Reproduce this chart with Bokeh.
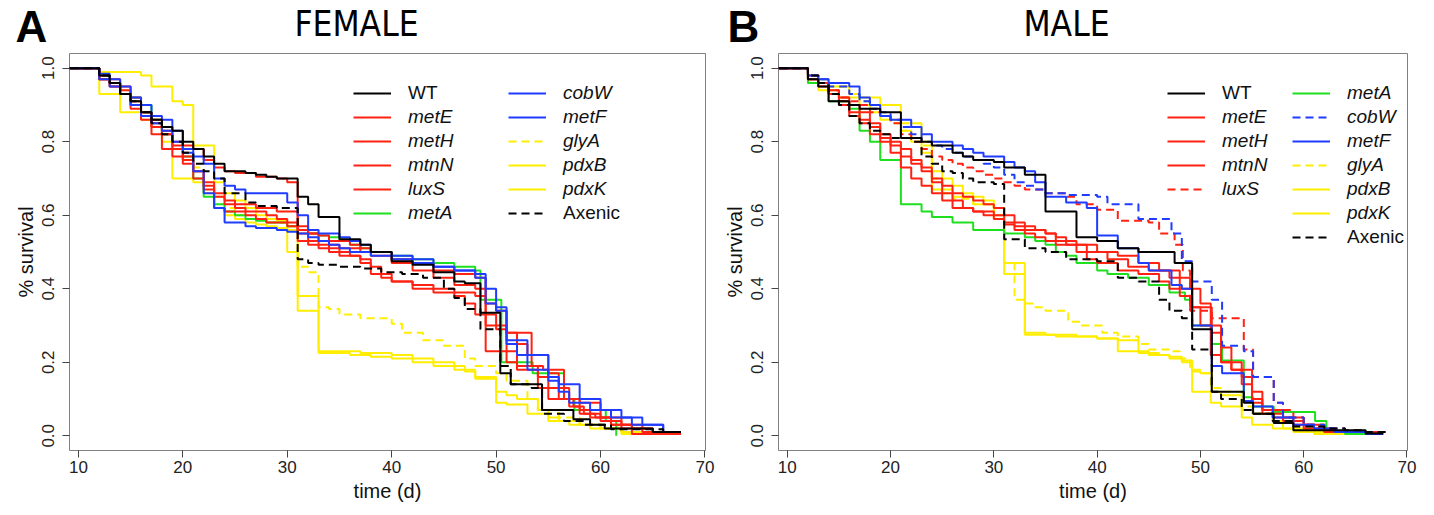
import numpy as np
from bokeh.plotting import figure
from bokeh.models import Range1d, FixedTicker, PrintfTickFormatter, Legend, LegendItem
from bokeh.layouts import row, column
from bokeh.core.properties import value
from bokeh.embed import file_html
from bokeh.resources import INLINE

# ---------------- data (time in days, survival fraction; step after) -------------
series = ["WT", "metE", "metH", "mtnN", "luxS", "metA", "cobW", "metF", "glyA", "pdxB", "pdxK", "Axenic"]
x_ticks = [10, 20, 30, 40, 50, 60, 70]
y_ticks = [0.0, 0.2, 0.4, 0.6, 0.8, 1.0]
panel_titles = ["FEMALE", "MALE"]
panel_letters = ["A", "B"]

# FEMALE
f_WT_t = [12,13,14,15,16,17,18,19,20,21,22,23,24,26,27,28,29,31,32,33,35,37,38,40,42,44,46,47,48.5,50.4,51.4,54.4,57.4,59,60.4,65]
f_WT_s = [.98,.96,.93,.91,.88,.86,.84,.83,.80,.78,.76,.74,.72,.715,.71,.705,.70,.65,.63,.595,.535,.52,.50,.475,.465,.445,.42,.415,.335,.17,.14,.07,.045,.03,.02,.01]
f_metE_t = [12,13,14,15,16,17,18,19,20,21,22,23,24,25,27,29,30,31,32,33,34,36,37,38,40,42,44,46,48,49,50,51,52,53,55,56,57,58,60,62,64,65]
f_metE_s = [.98,.97,.95,.92,.88,.86,.83,.80,.79,.78,.75,.73,.72,.715,.705,.70,.69,.56,.55,.545,.53,.52,.51,.50,.48,.47,.45,.44,.43,.36,.34,.28,.25,.22,.17,.13,.10,.09,.05,.03,.02,.005]
f_metH_t = [12,13,14,15,16,17,18,19,20,21,22,23,24,26,27,28,30,31,32,34,35,37,38,40,42,44,46,47,48,49,51,52,54,55,57,58,60,62,64,66]
f_metH_s = [.97,.95,.93,.89,.86,.82,.78,.76,.74,.70,.67,.62,.61,.60,.59,.58,.57,.53,.52,.50,.49,.47,.44,.42,.40,.39,.38,.36,.33,.23,.20,.18,.13,.10,.08,.06,.04,.02,.01,.005]
f_mtnN_t = [12,13,14,15,16,17,18,19,20,21,22,23,24,25,26,28,29,30,31,32,33,35,36,37,38,39,40,42,44,46,48,49,50,51,52,54,55,56,58,59,61,63]
f_mtnN_s = [.97,.96,.93,.90,.87,.84,.82,.79,.76,.72,.68,.65,.63,.62,.61,.60,.59,.58,.55,.53,.51,.50,.49,.48,.46,.43,.42,.41,.40,.39,.38,.33,.30,.23,.19,.16,.13,.10,.07,.05,.03,.005]
f_luxS_t = [12,13,14,15,16,17,18,19,20,21,22,23,24,25,27,29,31,32,33,34,35,37,38,40,42,44,46,48,49,50,51,53.4,54.5,56.5,57.4,58.4,59.5,61,63,65]
f_luxS_s = [.97,.95,.94,.91,.88,.85,.82,.78,.75,.72,.69,.66,.64,.63,.62,.61,.57,.55,.53,.52,.51,.50,.49,.47,.45,.43,.41,.40,.30,.29,.28,.19,.18,.10,.08,.06,.05,.03,.02,.005]
f_metA_t = [12,13,14,15,16,17,18,19,20,21,22,23,24,25,26,27,28,30,31,32,33,34,35,36,37,38,40,42,44,46,48,48.5,50.5,53.5,56.5,57.5,60.5,61.5]
f_metA_s = [.98,.96,.93,.92,.90,.86,.82,.78,.76,.70,.65,.63,.61,.60,.59,.585,.58,.57,.56,.55,.545,.54,.53,.52,.51,.50,.49,.48,.47,.46,.45,.37,.20,.17,.10,.07,.04,0.0]
f_cobW_t = [12,13,14,15,16,17,18,19,20,21,22,23,24,25,26,30,31,32,33,35,36,37,38,40,42,44,46,48,49,50,51,52,53,55,56,57,59,61,63,66]
f_cobW_s = [.985,.97,.95,.92,.90,.87,.86,.83,.78,.76,.74,.70,.68,.67,.66,.635,.60,.56,.55,.54,.53,.52,.50,.49,.48,.46,.45,.43,.36,.34,.25,.22,.18,.15,.12,.09,.07,.05,.03,.01]
f_metF_t = [12,13,14,15,16,17,18,19,20,21,22,23,24,26,27,29,30,31,32,33,34,35,36,38,40,42,44,46,48,49,50,51,53,55,56,58,60,62,64,66]
f_metF_s = [.97,.95,.93,.90,.87,.85,.83,.80,.77,.72,.66,.62,.58,.57,.565,.56,.555,.55,.54,.53,.52,.51,.50,.49,.48,.47,.46,.45,.44,.40,.35,.26,.22,.16,.14,.10,.07,.05,.03,.01]
f_glyA_t = [12,13,14,15,16,17,18,19,20,21,22,23,24,25,26,28,30,31,32,33,34,35,37,40,41,43,45,47,48,50,51,53,54,56,58,60,62,64]
f_glyA_s = [.98,.96,.94,.90,.88,.86,.84,.80,.77,.73,.68,.65,.62,.60,.59,.58,.57,.46,.445,.35,.345,.33,.32,.305,.28,.26,.245,.21,.19,.17,.15,.10,.07,.05,.03,.02,.01,.005]
f_pdxB_t = [12,16,17,19,20,21,23,24,25,26,27,28,29,30,31,33,37,40,42,44,46,47,48,50,51,53,55,57,59,62,64]
f_pdxB_s = [.99,.98,.95,.91,.90,.79,.69,.66,.64,.62,.60,.59,.585,.50,.38,.23,.225,.22,.21,.20,.19,.175,.155,.09,.085,.06,.04,.03,.02,.01,.005]
f_pdxK_t = [12,14,16,17,18,19,21,22,23,24,25,26,27,28,29,30,31,33,36,38,40,42,44,46,48,50,51,52,54,55,56,58,60,62]
f_pdxK_s = [.93,.88,.86,.84,.80,.70,.69,.66,.62,.60,.59,.58,.575,.57,.565,.56,.34,.225,.22,.215,.21,.20,.19,.18,.16,.12,.11,.10,.07,.05,.04,.03,.02,.005]
f_Axenic_t = [12,13,14,15,16,17,18,19,20,21,22,23,24,26,27,29,31,32,33,35,37,39,41,43,45,46,47,48.5,50.4,51.4,53.4,54.4,56.5,58.4,61,66]
f_Axenic_s = [.98,.96,.93,.91,.88,.85,.82,.80,.77,.74,.72,.70,.66,.635,.625,.62,.48,.47,.465,.46,.455,.445,.44,.43,.40,.375,.345,.29,.19,.14,.13,.06,.04,.03,.018,.01]

# MALE
m_WT_t = [12,13,14,16,17,19,21,23,24,26,27,28,30,31,33,35,38,40,42,44,47.5,49.2,51.1,54.2,55.1,57.1,59,66]
m_WT_s = [.97,.95,.91,.90,.89,.88,.81,.80,.79,.77,.76,.75,.745,.73,.71,.61,.54,.53,.51,.50,.47,.29,.12,.09,.06,.035,.015,.006]
m_metE_t = [12,13,14,15,16,17,18,19,20,21,22,23,24,25,26,27,28,29,30,31,32,33,34,35,36,37,38,40,42,44,46,48,49,50,51,52,53,55,56,57,59,61,63]
m_metE_s = [.98,.96,.94,.92,.90,.88,.85,.82,.80,.78,.75,.73,.70,.68,.66,.65,.64,.63,.62,.60,.58,.57,.56,.55,.54,.53,.52,.50,.49,.47,.45,.43,.40,.36,.30,.20,.18,.10,.07,.05,.03,.02,.01]
m_metH_t = [12,13,14,15,16,17,18,19,20,21,22,23,24,25,26,28,29,30,31,32,33,34,35,36,38,39,40,42,44,46,47,48,49,50,51,52,54,55,56,58,60,62]
m_metH_s = [.97,.95,.93,.90,.87,.85,.82,.80,.77,.73,.70,.68,.66,.64,.62,.61,.60,.59,.575,.56,.55,.54,.53,.52,.50,.48,.47,.45,.44,.42,.40,.38,.35,.30,.22,.20,.14,.09,.06,.04,.02,.01]
m_mtnN_t = [12,13,14,15,16,17,18,19,20,21,22,23,24,25,26,27,28,30,31,32,33,35,36,37,39,41,43,45,47,48,49.2,51.1,52,53,54,55,56,58,60,62]
m_mtnN_s = [.97,.96,.93,.91,.88,.86,.84,.81,.79,.76,.74,.72,.69,.66,.64,.62,.61,.60,.58,.57,.56,.55,.53,.52,.50,.48,.46,.45,.43,.40,.35,.28,.24,.18,.16,.12,.07,.05,.03,.01]
m_luxS_t = [12,13,14,15,16,17,18,19,20,21,22,23,24,25,26,27,28,29,30,31,32,33,35,37,38,40,42,45,46,47.5,48.3,49,51.1,54.2,55.1,57.1,58,59,60,62,64]
m_luxS_s = [.98,.96,.94,.92,.91,.90,.88,.87,.85,.82,.80,.78,.76,.75,.74,.73,.72,.71,.70,.69,.68,.67,.66,.65,.63,.615,.585,.58,.55,.52,.45,.34,.32,.235,.16,.09,.07,.05,.03,.02,.01]
m_metA_t = [12,14,16,17,18,19,21,23,24,26,28,31,33,34,35,36,37,38,40,41,43,45,47,48.5,49.2,51.1,52.1,54.2,55.1,57.1,61.1,62.2,64]
m_metA_s = [.96,.91,.89,.83,.80,.75,.63,.61,.595,.58,.56,.55,.54,.53,.52,.50,.49,.47,.45,.44,.43,.41,.39,.37,.30,.25,.205,.105,.08,.065,.04,.01,.005]
m_cobW_t = [12,13,14,16,17,18,19,20,21,22,23,24,25,26,27,28,29,30,31,32,33,34,35,37,40,41,44,47.2,48.2,49.2,51.1,52.1,54.2,55.1,57.1,58,60,62,64]
m_cobW_s = [.98,.97,.95,.93,.91,.89,.88,.86,.84,.82,.80,.79,.78,.77,.76,.75,.74,.73,.71,.69,.68,.67,.66,.655,.65,.63,.59,.55,.475,.42,.37,.245,.23,.16,.09,.05,.03,.02,.01]
m_metF_t = [12,13,14,16,17,18,19,20,22,23,24,26,27,28,29,31,32,33,34,35,37,39,40,42,44,45,47.2,48.2,49.2,51.1,52.1,54.2,55.1,57,59,61,63,66]
m_metF_s = [.98,.97,.96,.95,.92,.90,.87,.86,.84,.82,.80,.79,.78,.77,.76,.745,.73,.72,.69,.65,.635,.62,.545,.51,.47,.45,.41,.40,.30,.19,.17,.095,.08,.05,.03,.02,.01,.005]
m_glyA_t = [12,13,14,16,17,18,19,20,21,22,23,24,25,26,28,30,31,32,33,34,35,37.2,38.5,40.5,42,44,45,47,48,49,50,51,52,54,55,57,59,61,63]
m_glyA_s = [.98,.96,.95,.93,.91,.89,.87,.85,.83,.81,.79,.70,.66,.645,.63,.60,.47,.37,.36,.35,.34,.31,.30,.28,.27,.25,.235,.23,.21,.18,.17,.13,.12,.08,.06,.04,.02,.01,.005]
m_pdxB_t = [12,14,16,17,19,21,23,24,26,28,30,31,33,36,40,42,44,45,47,48.2,49.2,51,52,54,55,57,59,61]
m_pdxB_s = [.97,.95,.93,.92,.90,.85,.80,.67,.65,.63,.59,.47,.275,.27,.265,.26,.23,.22,.21,.20,.12,.09,.08,.05,.03,.02,.01,.005]
m_pdxK_t = [12,13,15,17,18,19,21,22,23,24,25,26,27,28,29,30,31,33,35,38,40,42,44,46,47,48.2,49.2,50,51.1,52,54,55,57,58,60,62]
m_pdxK_s = [.96,.94,.92,.90,.88,.86,.83,.80,.77,.72,.70,.68,.66,.65,.64,.62,.44,.28,.275,.27,.265,.23,.225,.22,.215,.205,.175,.17,.12,.11,.07,.06,.04,.02,.01,.005]
m_Axenic_t = [12,13,14,15,16,17,18,19,20,22,23,24,25,26,27,28,30,31,33,35,37,40,42,44,46,47,48.2,49.2,51.1,52,54,55,57,59,62,64,66,68]
m_Axenic_s = [.98,.96,.93,.90,.87,.85,.83,.82,.81,.80,.76,.74,.72,.715,.70,.69,.685,.535,.51,.50,.48,.475,.43,.42,.37,.34,.32,.235,.12,.10,.07,.06,.04,.025,.02,.015,.01,.005]

female = {
    "WT": (f_WT_t, f_WT_s), "metE": (f_metE_t, f_metE_s), "metH": (f_metH_t, f_metH_s),
    "mtnN": (f_mtnN_t, f_mtnN_s), "luxS": (f_luxS_t, f_luxS_s), "metA": (f_metA_t, f_metA_s),
    "cobW": (f_cobW_t, f_cobW_s), "metF": (f_metF_t, f_metF_s), "glyA": (f_glyA_t, f_glyA_s),
    "pdxB": (f_pdxB_t, f_pdxB_s), "pdxK": (f_pdxK_t, f_pdxK_s), "Axenic": (f_Axenic_t, f_Axenic_s),
}
male = {
    "WT": (m_WT_t, m_WT_s), "metE": (m_metE_t, m_metE_s), "metH": (m_metH_t, m_metH_s),
    "mtnN": (m_mtnN_t, m_mtnN_s), "luxS": (m_luxS_t, m_luxS_s), "metA": (m_metA_t, m_metA_s),
    "cobW": (m_cobW_t, m_cobW_s), "metF": (m_metF_t, m_metF_s), "glyA": (m_glyA_t, m_glyA_s),
    "pdxB": (m_pdxB_t, m_pdxB_s), "pdxK": (m_pdxK_t, m_pdxK_s), "Axenic": (m_Axenic_t, m_Axenic_s),
}

# ---------------- styles -------------
RED, GREEN, BLUE, YELLOW, BLACK = "#ff2212", "#1fe01f", "#1f3cff", "#ffee00", "#000000"
colors = {"WT": BLACK, "metE": RED, "metH": RED, "mtnN": RED, "luxS": RED, "metA": GREEN,
          "cobW": BLUE, "metF": BLUE, "glyA": YELLOW, "pdxB": YELLOW, "pdxK": YELLOW, "Axenic": BLACK}
DASH = "8 5"
f_dashed = {"glyA", "Axenic"}
m_dashed = {"glyA", "Axenic", "luxS", "cobW"}

SANS = "Liberation Sans, Arial, sans-serif"
NARROW = "Liberation Sans Narrow, DejaVu Sans Condensed, sans-serif"
HEADER_H = 52
FRAME_H = 397
END = 67.7
X0, X1 = 9.15, 70.05


def make_panel(data, dashed, frame_w, b_left, b_right, legend_cols):
    p = figure(title=None, frame_width=frame_w, frame_height=FRAME_H, output_backend="svg",
               toolbar_location=None,
               x_range=Range1d(X0, X1), y_range=Range1d(-0.04, 1.04),
               min_border_left=b_left, min_border_right=b_right, min_border_top=1, min_border_bottom=57,
               x_axis_label="time (d)", y_axis_label="% survival")
    p.grid.visible = False
    p.outline_line_color = "#808080"
    p.outline_line_width = 1
    p.background_fill_color = "white"
    p.border_fill_color = "white"
    for ax in (p.xaxis[0], p.yaxis[0]):
        ax.axis_line_color = None
        ax.major_tick_line_color = "#444444"
        ax.major_tick_out = 7
        ax.major_tick_in = 0
        ax.minor_tick_line_color = None
        ax.major_label_text_font = SANS
        ax.major_label_text_font_size = "17px"
        ax.major_label_text_color = "#222222"
        ax.axis_label_text_font = SANS
        ax.axis_label_text_font_size = "20px"
        ax.axis_label_text_font_style = "normal"
        ax.axis_label_text_color = "#111111"
    p.xaxis.ticker = FixedTicker(ticks=x_ticks)
    p.yaxis.ticker = FixedTicker(ticks=y_ticks)
    p.yaxis.formatter = PrintfTickFormatter(format="%.1f")
    p.yaxis.major_label_orientation = "vertical"
    p.xaxis.major_label_standoff = 3
    p.xaxis.axis_label_standoff = 4
    p.yaxis.major_label_standoff = 8
    p.yaxis.axis_label_standoff = 3

    rends = {}
    draw_order = ["pdxB", "pdxK", "glyA", "metA", "metE", "metH", "mtnN", "luxS", "cobW", "metF", "Axenic", "WT"]
    for name in draw_order:
        t, s = data[name]
        xs = [8.0] + list(t)
        ys = [1.0] + list(s)
        if ys[-1] > 0:
            xs.append(max(END, xs[-1]))
            ys.append(ys[-1])
        r = p.step(xs, ys, mode="after", line_color=colors[name], line_width=2,
                   line_dash=DASH if name in dashed else "solid")
        rends[name] = r

    ROW, TOP0 = 24, 28
    for col_x, names in legend_cols:
        runs = []
        for i, nm in enumerate(names):
            style = "normal" if nm in ("WT", "Axenic") else "italic"
            if runs and runs[-1][0] == style:
                runs[-1][1].append((i, nm))
            else:
                runs.append((style, [(i, nm)]))
        for style, items in runs:
            row0 = items[0][0]
            n = len(items)
            bottom = FRAME_H - (TOP0 + row0 * ROW) - n * ROW
            leg = Legend(items=[LegendItem(label=nm, renderers=[rends[nm]]) for _, nm in items],
                         location=(col_x, bottom), orientation="vertical",
                         glyph_width=38, glyph_height=ROW, label_height=ROW, spacing=0,
                         padding=0, margin=0, label_standoff=17,
                         border_line_alpha=0, background_fill_alpha=0,
                         label_text_font=SANS, label_text_font_size="19px",
                         label_text_font_style=style, label_text_color="#111111")
            p.add_layout(leg)
    return p


f_cols = [(284, ["WT", "metE", "metH", "mtnN", "luxS", "metA"]),
          (439, ["cobW", "metF", "glyA", "pdxB", "pdxK", "Axenic"])]
m_cols = [(389, ["WT", "metE", "metH", "mtnN", "luxS"]),
          (514, ["metA", "cobW", "metF", "glyA", "pdxB", "pdxK", "Axenic"])]

# female frame 69..705, male frame 778..1407 (page pixels)
p1 = make_panel(female, f_dashed, 636, 69, 12, f_cols)
p2 = make_panel(male, m_dashed, 629, 61, 20, m_cols)

# header strip with panel letters and titles (coordinates are page pixels, top-down)
header = figure(title=None, width=1434, height=HEADER_H, x_range=Range1d(0, 1434),
                y_range=Range1d(HEADER_H, 0),
                output_backend="svg", toolbar_location=None, min_border=0,
                x_axis_location=None, y_axis_location=None)
header.grid.visible = False
header.outline_line_color = None
header.text(x=[356, 1066], y=[3, 3], text=panel_titles, text_align="center",
            text_baseline="top", text_font=value(NARROW), text_font_size="35px", text_color="black")
header.text(x=[31, 743], y=[1, 1], text=panel_letters, text_align="center",
            text_baseline="top", text_font=value(SANS), text_font_style="bold",
            text_font_size="44px", text_color="black")

layout = column(header, row(p1, p2, spacing=0), spacing=0)
open("out.html", "w").write(file_html(layout, INLINE))
